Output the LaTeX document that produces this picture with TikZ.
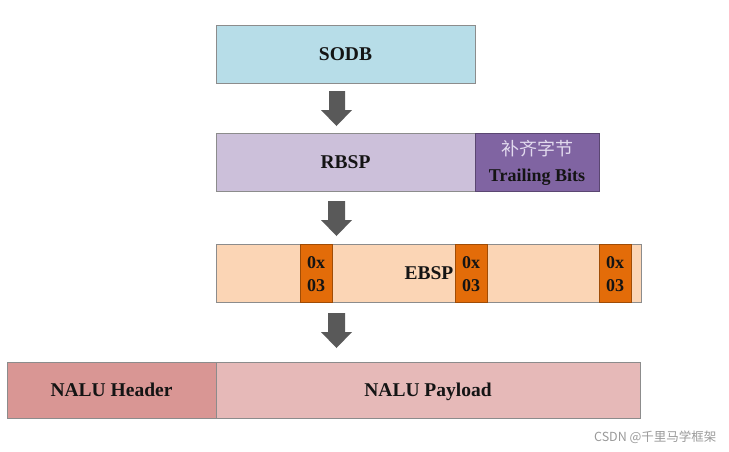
\documentclass[tikz,border=0pt]{standalone}
\usepackage{fontspec}
\setmainfont{Liberation Serif}
\newfontfamily\cjk{Noto Sans CJK SC}
\definecolor{sodbc}{HTML}{B7DDE8}
\definecolor{rbspc}{HTML}{CCC0DA}
\definecolor{trailc}{HTML}{8064A2}
\definecolor{ebspc}{HTML}{FBD5B5}
\definecolor{orangec}{HTML}{E36C09}
\definecolor{hdrc}{HTML}{D99694}
\definecolor{payc}{HTML}{E6B9B8}
\definecolor{arrc}{HTML}{595959}
\definecolor{edgec}{HTML}{8C8C8C}
\definecolor{cjkc}{HTML}{E2DAEE}
\definecolor{txtc}{HTML}{141414}
\begin{document}
\begin{tikzpicture}[x=1pt,y=-1pt,
  box/.style={draw=edgec,line width=0.8pt,inner sep=0pt},
  lbl/.style={font=\bfseries\fontsize{19.5}{21}\selectfont,text=txtc,anchor=base,inner sep=0pt},
  sml/.style={font=\bfseries\fontsize{18}{20}\selectfont,text=txtc,anchor=base,inner sep=0pt},
  hexbox/.style={draw=orangec!70!black,line width=0.6pt,fill=orangec},
  bigarrow/.style={fill=arrc,draw=none}]
\useasboundingbox (0,0) rectangle (729,451);
% SODB
\draw[box,fill=sodbc] (216,25) rectangle (475,83);
\node[lbl] (sodb) at (345.5,60.5) {SODB};
% arrow 1
\fill[bigarrow] (329,91) -- (345,91) -- (345,110) -- (352,110) -- (336.5,126) -- (321,110) -- (329,110) -- cycle;
% RBSP
\draw[box,fill=rbspc] (216,133) rectangle (475,191);
\draw[box,fill=trailc,draw=trailc!70!black] (475,133) rectangle (599,191);
\node[lbl] (rbsp) at (345.5,168.5) {RBSP};
\node[font=\cjk\fontsize{18}{20}\selectfont,text=cjkc] (cjk) at (537,149) {补齐字节};
\node[sml] (trail) at (537,181.5) {Trailing Bits};
% arrow 2
\fill[bigarrow] (328,201) -- (345,201) -- (345,220) -- (352,220) -- (336.5,236) -- (321,220) -- (328,220) -- cycle;
% EBSP
\draw[box,fill=ebspc] (216,244) rectangle (641,302);
\foreach \xa/\nm in {300/h1,455/h2,599/h3}{
  \draw[hexbox] (\xa,244) rectangle (\xa+32,302);
  \node[sml] (\nm) at (\xa+16,268) {0x};
  \node[sml] (\nm b) at (\xa+16,291.5) {03};
}
\node[lbl] (ebsp) at (429,279.5) {EBSP};
% arrow 3
\fill[bigarrow] (328,313) -- (345,313) -- (345,332) -- (352,332) -- (336.5,348) -- (321,332) -- (328,332) -- cycle;
% NALU
\draw[box,fill=hdrc] (7,362) rectangle (216,418);
\draw[box,fill=payc] (216,362) rectangle (640,418);
\node[lbl] (hdr) at (111.5,396.5) {NALU Header};
\node[lbl] (pay) at (428,396.5) {NALU Payload};
% watermark
\node[font=\cjk\fontsize{12.5}{14}\selectfont,text=black!40,anchor=east] (wm) at (720,437) {CSDN @千里马学框架};
\end{tikzpicture}
\end{document}
